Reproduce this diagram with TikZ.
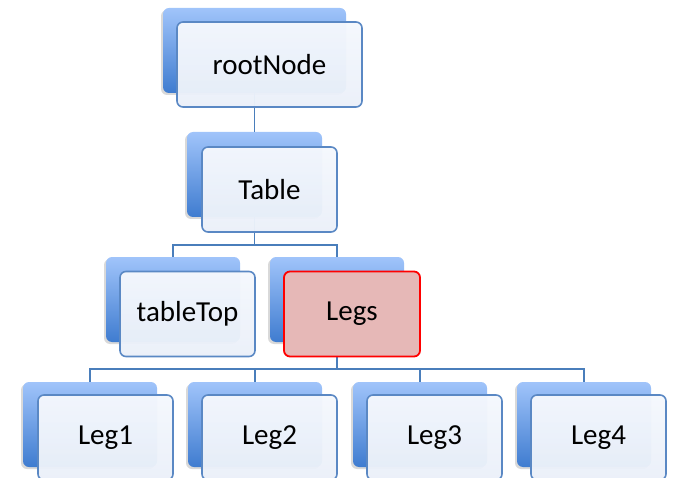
\documentclass[tikz,border=0pt]{standalone}
\usepackage{fontspec}
\setmainfont{Carlito}
\usetikzlibrary{shadows}
\definecolor{conn}{HTML}{4A7EBB}
\definecolor{fborder}{HTML}{5A88C4}
\definecolor{btop}{HTML}{A0C4FA}
\definecolor{bbot}{HTML}{3F7CD0}
\definecolor{ftop}{HTML}{F5F8FD}
\definecolor{fbot}{HTML}{EAF0F9}
\definecolor{legsfill}{HTML}{E6B8B7}
\tikzset{
  backbox/.style={rectangle, rounded corners=6pt, minimum height=85pt,
    top color=btop, bottom color=bbot, draw=none,
    drop shadow={shadow xshift=-2pt, shadow yshift=-2pt, opacity=0.25, fill=black!60}},
  frontbox/.style={rectangle, rounded corners=6pt, minimum height=85pt,
    draw=fborder, line width=1.6pt, top color=ftop, bottom color=fbot,
    fill opacity=0.97, text opacity=1, font=\fontsize{29}{34}\selectfont},
  legsbox/.style={rectangle, rounded corners=6pt, minimum height=85pt,
    draw=red, line width=1.8pt, fill=legsfill,
    font=\fontsize{29}{34}\selectfont},
  conline/.style={draw=conn, line width=1.6pt}
}
\begin{document}
\begin{tikzpicture}[x=1pt,y=-1pt]
\useasboundingbox (0,0) rectangle (674,478);
\clip (0,0) rectangle (674,478);
% back boxes
\node[backbox, minimum width=183pt] (rootB) at (254.5,50.5) {};
\node[backbox, minimum width=135pt] (tableB) at (254.5,174.5) {};
\node[backbox, minimum width=134pt] (topB) at (173,299.5) {};
\node[backbox, minimum width=134pt] (legsB) at (337,299.5) {};
\node[backbox, minimum width=134pt] (leg1B) at (90,424.5) {};
\node[backbox, minimum width=134pt] (leg2B) at (255,424.5) {};
\node[backbox, minimum width=134pt] (leg3B) at (420,424.5) {};
\node[backbox, minimum width=134pt] (leg4B) at (584,424.5) {};
% connectors
\draw[conline] (rootB.south) -- (tableB.north);
\draw[conline] (tableB.south) -- ++(0,28) -| (topB.north);
\draw[conline] (tableB.south) -- ++(0,28) -| (legsB.north);
\draw[conline] (legsB.south) -- ++(0,27) -| (leg1B.north);
\draw[conline] (legsB.south) -- ++(0,27) -| (leg2B.north);
\draw[conline] (legsB.south) -- ++(0,27) -| (leg3B.north);
\draw[conline] (legsB.south) -- ++(0,27) -| (leg4B.north);
% front boxes
\node[frontbox, minimum width=185pt] (root) at (269.5,64.5) {rootNode};
\node[frontbox, minimum width=135pt] (table) at (269.5,189.5) {Table};
\node[frontbox, minimum width=135pt] (top) at (187.5,314) {tableTop};
\node[legsbox, minimum width=136pt] (legs) at (352,314) {Legs};
\node[frontbox, minimum width=135pt] (leg1) at (105.5,437.5) {Leg1};
\node[frontbox, minimum width=135pt] (leg2) at (269.5,437.5) {Leg2};
\node[frontbox, minimum width=135pt] (leg3) at (434.5,437.5) {Leg3};
\node[frontbox, minimum width=135pt] (leg4) at (598.5,437.5) {Leg4};
\end{tikzpicture}
\end{document}
